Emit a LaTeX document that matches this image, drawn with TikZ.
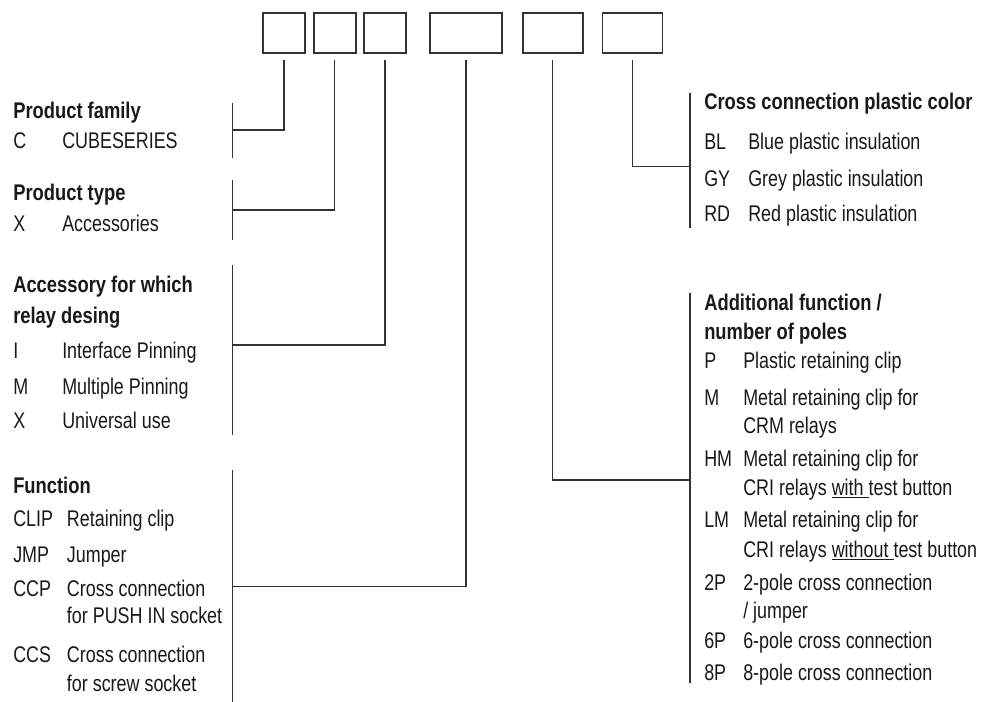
\documentclass[tikz,border=0pt]{standalone}
\usepackage{fontspec}
\setmainfont{Liberation Sans}[FakeStretch=0.79, BoldFeatures={FakeStretch=0.81}]
\begin{document}
\begin{tikzpicture}[x=0.75pt,y=-0.75pt,
  every node/.style={font=\fontsize{17pt}{20pt}\selectfont, text=black!90},
  field/.style={draw=black!80, line width=1.4pt, inner sep=0pt, minimum height=30.5pt},
  narrowfield/.style={field, minimum width=31.5pt},
  widefield/.style={field, minimum width=54pt},
  midfield/.style={field, minimum width=45pt},
  conn/.style={draw=black!80, line width=1.1pt},
  brk/.style={draw=black!80, line width=1.1pt},
  txt/.style={anchor=base west, inner sep=0pt},
  head/.style={txt, font=\fontsize{17pt}{20pt}\selectfont\bfseries}]
\useasboundingbox[fill=white] (0,0) rectangle (981,702);

% code fields
\node[narrowfield] (b1) at (283.8,33) {};
\node[narrowfield] (b2) at (334.7,33) {};
\node[narrowfield] (b3) at (385,33) {};
\node[widefield]   (b4) at (466.2,33) {};
\node[midfield]    (b5) at (552.7,33) {};
\node[midfield]    (b6) at (632.5,33) {};

% bracket junctions
\coordinate (j1) at (232.5,130);
\coordinate (j2) at (232.5,210);
\coordinate (j3) at (232.5,345);
\coordinate (j4) at (232.5,586.5);
\coordinate (j5) at (690,480);
\coordinate (j6) at (690,166.7);

% brackets
\draw[brk] (232.5,103) -- (232.5,158);
\draw[brk] (232.5,180) -- (232.5,240);
\draw[brk] (232.5,265) -- (232.5,435);
\draw[brk] (232.5,470) -- (232.5,702);
\draw[brk] (690,93) -- (690,228);
\draw[brk] (690,293) -- (690,683);

% connectors
\draw[conn] ([yshift=-4.5pt]b1.south) |- (j1);
\draw[conn] ([yshift=-4.5pt]b2.south) |- (j2);
\draw[conn] ([yshift=-4.5pt]b3.south) |- (j3);
\draw[conn] ([yshift=-4.5pt]b4.south) |- (j4);
\draw[conn] ([yshift=-4.5pt]b5.south) |- (j5);
\draw[conn] ([yshift=-4.5pt]b6.south) |- (j6);

% left column
\node[head] (h1) at (13,119) {Product family};
\node[txt] (c1) at (13,149) {C};
\node[txt] (d1) at (62,149) {CUBESERIES};

\node[head] (h2) at (13,201) {Product type};
\node[txt] (c2) at (13,232) {X};
\node[txt] (d2) at (62,232) {Accessories};

\node[head] (h3a) at (13,292) {Accessory for which};
\node[head] (h3b) at (13,323) {relay desing};
\node[txt] (c3a) at (13,358) {I};
\node[txt] (d3a) at (62,358) {Interface Pinning};
\node[txt] (c3b) at (13,394) {M};
\node[txt] (d3b) at (62,394) {Multiple Pinning};
\node[txt] (c3c) at (13,428) {X};
\node[txt] (d3c) at (62,428) {Universal use};

\node[head] (h4) at (13,493) {Function};
\node[txt] (c4a) at (13,526) {CLIP};
\node[txt] (d4a) at (66.7,526) {Retaining clip};
\node[txt] (c4b) at (13,562) {JMP};
\node[txt] (d4b) at (66.7,562) {Jumper};
\node[txt] (c4c) at (13,596) {CCP};
\node[txt] (d4c) at (66.7,596) {Cross connection};
\node[txt] (e4c) at (66.7,623.5) {for PUSH IN socket};
\node[txt] (c4d) at (13,662) {CCS};
\node[txt] (d4d) at (66.7,662) {Cross connection};
\node[txt] (e4d) at (66.7,691) {for screw socket};

% right column
\node[head] (h6) at (704,110) {Cross connection plastic color};
\node[txt] (c6a) at (704,150) {BL};
\node[txt] (d6a) at (748,150) {Blue plastic insulation};
\node[txt] (c6b) at (704,187) {GY};
\node[txt] (d6b) at (748,187) {Grey plastic insulation};
\node[txt] (c6c) at (704,222) {RD};
\node[txt] (d6c) at (748,222) {Red plastic insulation};

\node[head] (h5a) at (704,310) {Additional function /};
\node[head] (h5b) at (704,339.5) {number of poles};
\node[txt] (c5a) at (704,368) {P};
\node[txt] (d5a) at (743,368) {Plastic retaining clip};
\node[txt] (c5b) at (704,405) {M};
\node[txt] (d5b) at (743,405) {Metal retaining clip for};
\node[txt] (e5b) at (743,433.5) {CRM relays};
\node[txt] (c5c) at (704,466) {HM};
\node[txt] (d5c) at (743,466) {Metal retaining clip for};
\node[txt] (e5c) at (743,495) {CRI relays \underline{with\ }test button};
\node[txt] (c5d) at (704,527) {LM};
\node[txt] (d5d) at (743,527) {Metal retaining clip for};
\node[txt] (e5d) at (743,557) {CRI relays \underline{without\ }test button};
\node[txt] (c5e) at (704,590) {2P};
\node[txt] (d5e) at (743,590) {2-pole cross connection};
\node[txt] (e5e) at (743,618.5) {/ jumper};
\node[txt] (c5f) at (704,648.5) {6P};
\node[txt] (d5f) at (743,648.5) {6-pole cross connection};
\node[txt] (c5g) at (704,680) {8P};
\node[txt] (d5g) at (743,680) {8-pole cross connection};
\end{tikzpicture}
\end{document}
